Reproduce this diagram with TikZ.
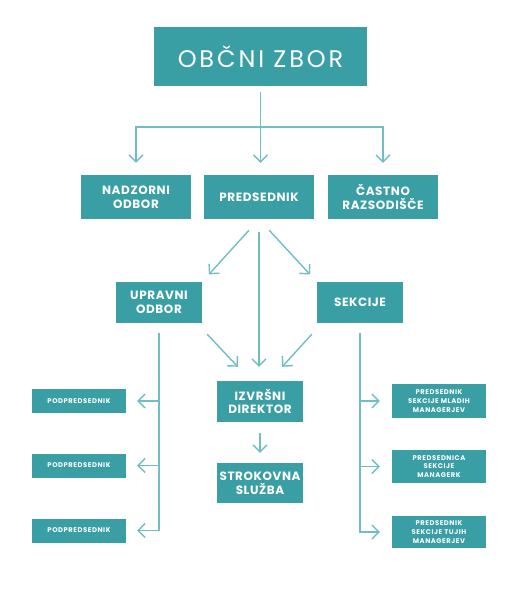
\documentclass[tikz,border=0pt]{standalone}
\usepackage{fontspec}
\setmainfont{Poppins}
\usetikzlibrary{arrows.meta}
\definecolor{boxteal}{RGB}{58,158,165}
\definecolor{lineteal}{RGB}{112,190,196}

\begin{document}
\begin{tikzpicture}[x=1pt, y=-1pt, >={Straight Barb[length=7pt, width=14pt]},
        box/.style={fill=boxteal, text=white, align=center, inner sep=0pt,
            font=\bfseries\fontsize{12}{13.6}\selectfont\addfontfeatures{LetterSpace=5}},
        smallbox/.style={box, minimum width=94pt, font=\bfseries\fontsize{6.8}{8.8}\selectfont\addfontfeatures{LetterSpace=8}},
        conn/.style={lineteal, line width=1.4pt}]
        \useasboundingbox (0, 0) rectangle (524, 597);

        \node [box, minimum width=213pt, minimum height=59pt, font=\fontsize{24}{26}\selectfont\addfontfeatures{LetterSpace=12}] (zbor) at (260.5, 56.5) {OBČNI ZBOR};

        \node [box, minimum width=110pt, minimum height=44pt] (nadzor) at (136, 197) {NADZORNI\\ODBOR};
        \node [box, minimum width=110pt, minimum height=44pt] (pred) at (259, 197) {PREDSEDNIK};
        \node [box, minimum width=110pt, minimum height=44pt] (castno) at (383, 197) {ČASTNO\\RAZSODIŠČE};

        \node [box, minimum width=86pt, minimum height=41pt] (upravni) at (159, 302.5) {UPRAVNI\\ODBOR};
        \node [box, minimum width=86pt, minimum height=41pt] (sekcije) at (360, 302.5) {SEKCIJE};
        \node [box, minimum width=86pt, minimum height=41pt] (izvrsni) at (260, 401.5) {IZVRŠNI\\DIREKTOR};
        \node [box, minimum width=86pt, minimum height=40pt] (strok) at (260, 483) {STROKOVNA\\SLUŽBA};

        \foreach \i/\y in {1/401, 2/465.5, 3/530.5}{
            \node [smallbox, minimum height=24pt] (pod\i) at (79, \y) {PODPREDSEDNIK};
        }
        \node [smallbox, minimum height=34pt] (mladih) at (439, 401) {PREDSEDNIK\\SEKCIJE MLADIH\\MANAGERJEV};
        \node [smallbox, minimum height=33pt] (managerk) at (439, 466.5) {PREDSEDNICA\\SEKCIJE\\MANAGERK};
        \node [smallbox, minimum height=32pt] (tujih) at (439, 532) {PREDSEDNIK\\SEKCIJE TUJIH\\MANAGERJEV};

        \coordinate (split) at (zbor.south |- 0, 127);
        \draw [conn, ->, shorten <=6pt, shorten >=12pt] (zbor.south) -- (zbor.south |- pred.north);
        \draw [conn, ->, shorten >=12pt] (split) -| (nadzor.north);
        \draw [conn, ->, shorten >=12pt] (split) -| (castno.north);

        \draw [conn, ->, shorten <=15pt, shorten >=10pt] (pred.south) -- (upravni.north east);
        \draw [conn, ->, shorten <=15pt, shorten >=10pt] (pred.south) -- (sekcije.north west);
        \draw [conn, ->, shorten <=13pt, shorten >=14pt] (pred.south) -- (pred.south |- izvrsni.north);
        \draw [conn, ->] ([xshift=5pt, yshift=-11pt]upravni.south east) -- ([xshift=21pt, yshift=14pt]izvrsni.north west);
        \draw [conn, ->] ([xshift=-5pt, yshift=-11pt]sekcije.south west) -- ([xshift=-21pt, yshift=14pt]izvrsni.north east);
        \draw [conn, ->, shorten <=11pt, shorten >=10pt] (izvrsni) -- (strok);

        \draw [conn, ->, shorten >=11pt] ([yshift=-10pt]upravni.south) |- (pod3.east);
        \foreach \i in {1, 2}{
            \draw [conn, ->, shorten >=11pt] (upravni.south |- pod\i.east) -- (pod\i.east);
        }
        \draw [conn, ->, shorten >=12pt] ([yshift=-10pt]sekcije.south) |- (tujih.west);
        \foreach \n in {mladih, managerk}{
            \draw [conn, ->, shorten >=12pt] (sekcije.south |- \n.west) -- (\n.west);
        }
    \end{tikzpicture}
\end{document}
